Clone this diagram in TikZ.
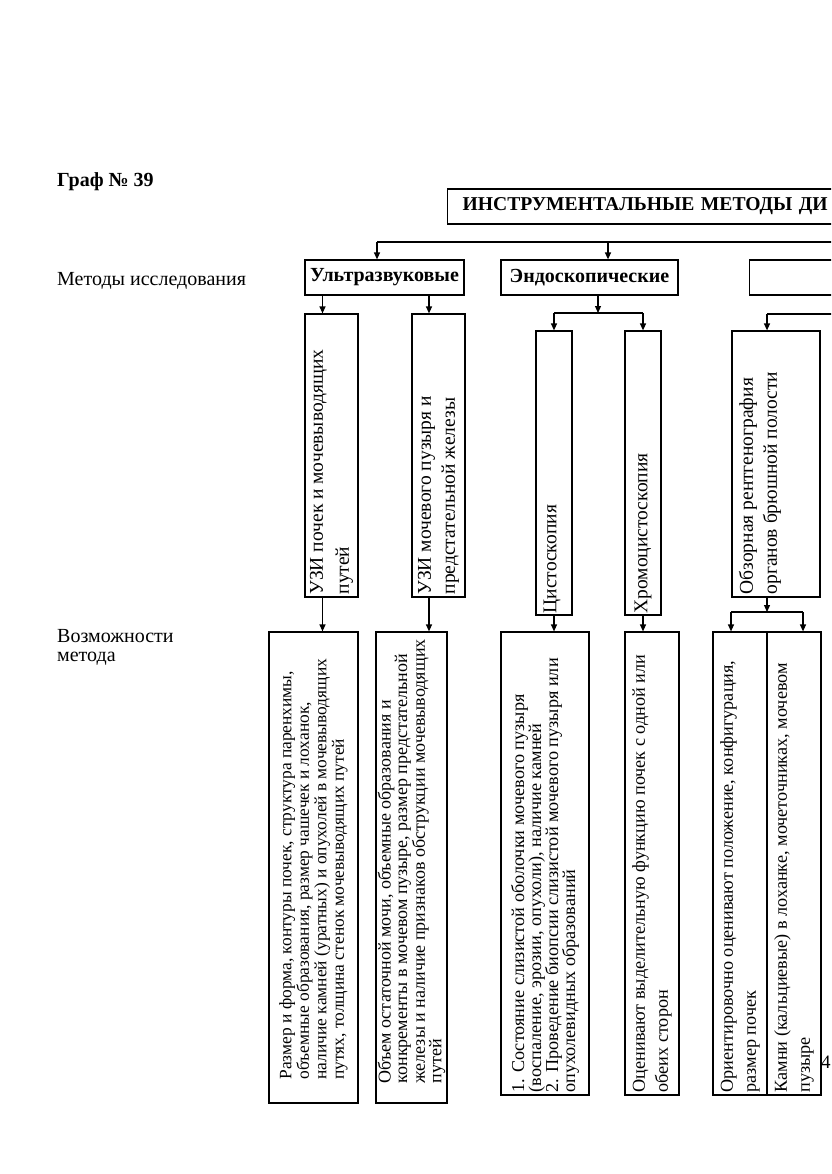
\documentclass[tikz,border=0pt]{standalone}
\usepackage{fontspec}
\setmainfont{Liberation Serif}
\usetikzlibrary{arrows.meta}
\begin{document}
\begin{tikzpicture}[x=1pt,y=-1pt,
  font=\fontsize{20}{19}\selectfont,
  box/.style={draw, line width=1.2pt, inner sep=0pt, minimum width=#1},
  vtext/.style={rotate=90, align=left, inner sep=0pt, anchor=west},
  btext/.style={font=\bfseries\fontsize{20}{22}\selectfont},
  arr/.style={-{Triangle[length=7pt,width=6pt]}, line width=1.2pt},
  ln/.style={line width=1.2pt}
]
\useasboundingbox (0,0) rectangle (831,1174);
\fill[white] (0,0) rectangle (831,1174);
\clip (0,0) rectangle (831,1174);

% left labels
\node[btext, anchor=base west, inner sep=0pt] (graf) at (57,187) {Граф № 39};
\node[anchor=base west, inner sep=0pt] (lab1) at (57,285) {Методы исследования};
\node[anchor=base west, inner sep=0pt, align=left] (lab2) at (57,661) {Возможности\\метода};

% title
\node[box=560pt, minimum height=35pt, anchor=west, font=\bfseries\fontsize{19.6}{22}\selectfont, align=left, text width=530pt, inner xsep=15pt] (title) at (447,206.5) {ИНСТРУМЕНТАЛЬНЫЕ МЕТОДЫ ДИ};

% level 1
\node[box=159pt, minimum height=35pt, btext] (ultra) at (384.5,277.5) {Ультразвуковые};
\node[box=177pt, minimum height=35pt, btext] (endo) at (589.5,277.5) {Эндоскопические};
\node[box=200pt, minimum height=35pt, anchor=west] (rad) at (749,277.5) {};

% level 2 boxes
\node[box=53pt, minimum height=283pt] (uzi1) at (331.5,455.5) {};
\node[box=53pt, minimum height=283pt] (uzi2) at (438.5,455.5) {};
\node[box=36pt, minimum height=284pt] (cysto) at (554,473) {};
\node[box=36pt, minimum height=284pt] (chromo) at (643,473) {};
\node[box=88pt, minimum height=266pt] (rent) at (776,464) {};

\node[vtext, font=\fontsize{19.5}{26}\selectfont] (uzi1t) at ([yshift=3pt]uzi1.south) {УЗИ почек и мочевыводящих\\путей};
\node[vtext, font=\fontsize{19.5}{24}\selectfont] (uzi2t) at ([yshift=3pt]uzi2.south) {УЗИ мочевого пузыря и\\предстательной железы};
\node[vtext, font=\fontsize{19.5}{23}\selectfont] (cystot) at ([xshift=-2pt,yshift=2pt]cysto.south) {Цистоскопия};
\node[vtext, font=\fontsize{19.5}{23}\selectfont] (chromot) at ([yshift=2pt]chromo.south) {Хромоцистоскопия};
\node[vtext, font=\fontsize{19.5}{24}\selectfont] (rentt) at ([xshift=-16pt,yshift=3pt]rent.south) {Обзорная рентгенография\\органов брюшной полости};

% level 3 boxes
\node[box=89pt, minimum height=471pt] (p1) at (313.5,867.5) {};
\node[box=71pt, minimum height=471pt] (p2) at (411.5,867.5) {};
\node[box=88pt, minimum height=463pt] (p3) at (545,863.5) {};
\node[box=54pt, minimum height=463pt] (p4) at (652,863.5) {};
\node[box=54pt, minimum height=463pt] (p5a) at (740,863.5) {};
\node[box=54pt, minimum height=463pt] (p5b) at (794,863.5) {};

\node[vtext, font=\fontsize{17.4}{17.5}\selectfont] (p1t) at ([yshift=24pt]p1.south) {Размер и форма, контуры почек, структура паренхимы,\\объемные образования, размер чашечек и лоханок,\\наличие камней (уратных) и опухолей в мочевыводящих\\путях, толщина стенок мочевыводящих путей};
\node[vtext, font=\fontsize{18}{16.5}\selectfont] (p2t) at ([yshift=20pt]p2.south) {Объем остаточной мочи, объемные образования и\\конкременты в мочевом пузыре, размер предстательной\\железы и наличие признаков обструкции мочевыводящих\\путей};
\node[vtext, font=\fontsize{18.2}{17}\selectfont] (p3t) at ([yshift=3pt]p3.south) {1. Состояние слизистой оболочки мочевого пузыря\\(воспаление, эрозии, опухоли), наличие камней\\2. Проведение биопсии слизистой мочевого пузыря или\\опухолевидных образований};
\node[vtext, font=\fontsize{18.2}{23}\selectfont] (p4t) at ([yshift=3pt]p4.south) {Оценивают выделительную функцию почек с одной или\\обеих сторон};
\node[vtext, font=\fontsize{18.2}{23}\selectfont] (p5at) at ([yshift=3pt]p5a.south) {Ориентировочно оценивают положение, конфигурация,\\размер почек};
\node[vtext, font=\fontsize{18.2}{23}\selectfont] (p5bt) at ([yshift=3pt]p5b.south) {Камни (кальциевые) в лоханке, мочеточниках, мочевом\\пузыре};

\node[anchor=base west, inner sep=0pt, font=\fontsize{19}{23}\selectfont] (page) at (821,1068) {4};

% connector coordinates
\coordinate (hl) at (377,242);
\coordinate (hr) at (900,242);
\coordinate (he) at (608,242);
\coordinate (a1) at (322.5,0);
\coordinate (a2) at (429,0);
\coordinate (es) at (598,313);
\coordinate (r0) at (900,314);
\coordinate (r1) at (767,314);
\coordinate (r2) at (767,612);
\coordinate (r3) at (731,612);
\coordinate (r4) at (803,612);

\draw[ln] (hr) -- (hl);
\draw[arr] (hl) -- (ultra.north -| hl);
\draw[arr] (he) -- (endo.north -| he);

\draw[arr] (ultra.south -| a1) -- (uzi1.north -| a1);
\draw[arr] (ultra.south -| a2) -- (uzi2.north -| a2);
\draw[arr] (uzi1.south -| a1) -- (p1.north -| a1);
\draw[arr] (uzi2.south -| a2) -- (p2.north -| a2);

\draw[arr] (endo.south -| es) -- (es);
\draw[ln] (es -| cysto.north) -- (es -| chromo.north);
\draw[arr] (es -| cysto.north) -- (cysto.north);
\draw[arr] (es -| chromo.north) -- (chromo.north);
\draw[arr] (cysto.south) -- (p3.north -| cysto.south);
\draw[arr] (chromo.south) -- (p4.north -| chromo.south);

\draw[ln] (r0) -- (r1);
\draw[arr] (r1) -- (rent.north -| r1);
\draw[arr] (rent.south -| r2) -- (r2);
\draw[ln] (r3) -- (r4);
\draw[arr] (r3) -- (p5a.north -| r3);
\draw[arr] (r4) -- (p5b.north -| r4);
\end{tikzpicture}
\end{document}
